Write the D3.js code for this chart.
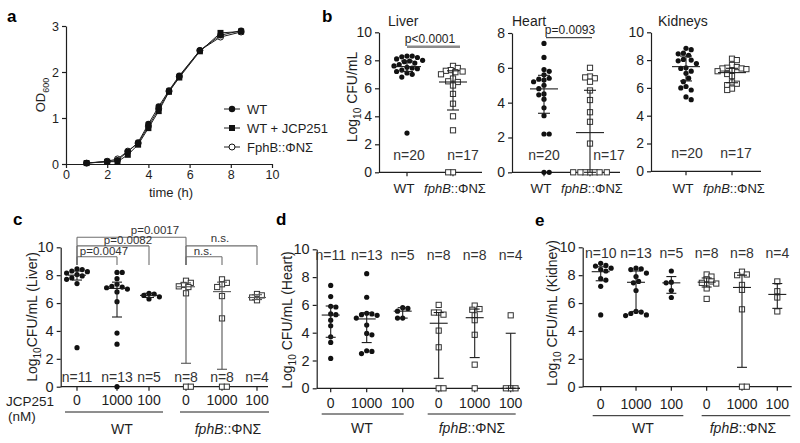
<!DOCTYPE html>
<html><head><meta charset="utf-8">
<script src="https://cdn.jsdelivr.net/npm/d3@7"></script>
<style>body{margin:0;background:#fff}svg{display:block}</style>
</head><body>
<svg id="fig" width="800" height="443"></svg>
<script>
// ---------------- DATA ----------------
// panel a: growth curves
const growthTime   = [1, 2, 2.5, 3, 3.5, 4, 4.5, 5, 5.5, 6.5, 7.5, 8.5];
const growthWT     = [0.02, 0.05, 0.08, 0.27, 0.47, 0.87, 1.25, 1.60, 1.92, 2.47, 2.80, 2.90];
const growthWTJCP  = [0.02, 0.05, 0.05, 0.20, 0.42, 0.78, 1.15, 1.57, 1.88, 2.45, 2.85, 2.88];
const growthFphB   = [0.02, 0.06, 0.11, 0.28, 0.45, 0.82, 1.20, 1.58, 1.90, 2.47, 2.76, 2.87];
const growthNames  = ["WT", "WT + JCP251", "FphB::ΦNΣ"];
const growthXTicks = [0, 2, 4, 6, 8, 10];
const growthYTicks = [0, 1, 2, 3];

// panel b: organ burdens, WT vs fphB
const bOrgans     = ["Liver", "Heart", "Kidneys"];
const bLiverWT    = [8.3,8.3,8.25,8.2,8.1,8.0,7.95,7.9,7.8,7.7,7.6,7.5,7.45,7.4,7.3,7.2,7.1,7.0,6.8,2.8];
const bLiverFphB  = [7.6,7.45,7.3,7.25,7.2,7.15,7.0,6.7,6.5,6.45,6.2,5.6,4.9,4.0,3.0,0,0];
const bHeartWT    = [7.4,6.6,5.9,5.8,5.6,5.4,5.35,5.3,5.2,5.0,4.8,4.5,4.45,4.2,3.7,3.25,2.2,2.2,0,0];
const bHeartFphB  = [6.0,5.5,5.45,5.4,5.2,4.7,4.15,3.45,2.9,1.65,0,0,0,0,0,0,0];
const bKidneyWT   = [8.85,8.75,8.5,8.45,8.35,8.05,8.0,7.95,7.75,7.45,7.4,7.2,7.05,6.7,6.45,6.1,6.0,5.85,5.35,5.15];
const bKidneyFphB = [8.1,8.0,7.65,7.5,7.45,7.4,7.4,7.35,7.25,7.2,7.0,6.85,6.4,6.3,6.2,5.95,5.85];
// [q1, median, q3] as drawn
const bLiverStats  = [[7.2,7.55,7.95],[4.45,6.45,7.25]];
const bHeartStats  = [[3.39,4.79,5.57],[0,2.28,4.71]];
const bKidneyStats = [[6.5,7.53,8.29],[6.37,7.1,7.41]];
const bPValues     = ["p<0.0001", "p=0.0093", null];

// panels c-e: JCP251 dose
const doses = ["0", "1000", "100", "0", "1000", "100"];
const cLiver  = [
  [8.45,8.4,8.3,8.25,8.15,8.05,7.95,7.8,7.7,7.4,2.8],
  [8.2,8.2,7.75,7.35,7.2,7.15,7.1,7.0,6.8,6.1,3.85,3.05,0],
  [6.7,6.65,6.55,6.45,6.3],
  [7.6,7.45,7.3,7.2,7.15,6.7,0,0],
  [7.7,7.45,7.35,7.15,6.5,4.9,0,0],
  [6.65,6.55,6.4,6.2]];
const cStats = [[7.65,8.0,8.3],[5.0,7.05,7.5],[6.4,6.55,6.7],[1.68,7.17,7.45],[1.25,6.82,7.5],[6.25,6.4,6.6]];
const cComparisons = [
  {a:0, b:3, label:"p=0.0017"}, {a:0, b:2, label:"p=0.0082"}, {a:0, b:1, label:"p=0.0047"},
  {a:3, b:5, label:"n.s."}, {a:3, b:4, label:"n.s."}];
const dHeart = [
  [7.4,6.6,5.9,5.85,5.35,5.3,4.9,4.5,3.7,3.3,2.15],
  [8.25,6.55,5.4,5.35,5.3,5.25,5.05,4.55,3.95,3.85,2.7,2.65,2.5],
  [5.8,5.75,5.55,5.05,5.05],
  [6.0,5.45,5.45,5.3,4.15,2.95,0,0],
  [5.95,5.7,5.65,5.25,4.9,3.85,1.7,0],
  [5.25,0,0,0]];
const dStats = [[3.67,5.27,5.92],[3.29,4.99,5.44],[5.05,5.55,5.8],[0.72,4.68,5.45],[2.21,5.08,5.7],[0,0,3.96]];
const eKidney = [
  [8.85,8.7,8.65,8.5,8.4,8.3,7.75,7.65,7.2,5.15],
  [8.5,8.45,8.4,8.15,7.9,7.55,7.45,6.9,5.4,5.35,5.25,5.15,5.1],
  [8.3,7.5,7.45,6.9,6.4],
  [8.05,7.9,7.7,7.55,7.45,7.4,7.05,6.3],
  [8.25,8.05,8.0,7.3,6.95,5.55,0,0],
  [7.55,6.85,6.4,5.4]];
const eStats = [[7.6,8.25,8.6],[5.4,7.49,8.3],[6.7,7.45,7.9],[7.15,7.5,7.8],[1.39,7.12,8.0],[5.62,6.62,7.4]];
const cfuTicks10 = [0, 2, 4, 6, 8, 10];
const cfuTicks8  = [0, 2, 4, 6, 8];

// ---------------- DRAWING ----------------
const FONT = "'Liberation Sans', Arial, sans-serif";
const INK = "#1e1e1e";
const svg = d3.select("#fig").attr("font-family", FONT);
const fmt = d3.format("d");

function txt(g, x, y, s, size, anchor, extra) {
  const t = g.append("text").attr("x", x).attr("y", y).attr("font-size", size)
    .attr("fill", INK).attr("text-anchor", anchor || "start").text(s);
  if (extra) extra(t);
  return t;
}
function styleAxis(g, size) {
  g.attr("font-family", FONT).attr("font-size", size);
  g.selectAll("path,line").attr("stroke", INK).attr("stroke-width", 1.2);
  g.selectAll("text").attr("fill", INK);
}
function fphLabel(g, x, y, size) {
  const t = g.append("text").attr("x", x).attr("y", y).attr("font-size", size)
    .attr("fill", INK).attr("text-anchor", "middle");
  t.append("tspan").attr("font-style", "italic").text("fphB");
  t.append("tspan").text("::ΦNΣ");
  return t;
}
function log10Label(g, x, y, size, rest) {
  const t = g.append("text").attr("transform", `translate(${x},${y}) rotate(-90)`)
    .attr("font-size", size).attr("fill", INK).attr("text-anchor", "middle");
  t.append("tspan").text("Log");
  t.append("tspan").attr("font-size", size * 0.72).attr("dy", size * 0.3).text("10");
  t.append("tspan").attr("dy", -size * 0.3).text(rest);
}
function panelLetter(x, y, s) {
  svg.append("text").attr("x", x).attr("y", y).attr("font-size", 17).attr("font-weight", "bold")
    .attr("fill", "#000").text(s);
}

// swarm layout: place points of a group around its centre without overlap
function swarm(vals, y, minD) {
  const pts = vals.map(v => ({v, py: y(v), dx: 0})).sort((a, b) => b.v - a.v);
  const placed = [];
  const step = minD * 0.5;
  pts.forEach((p, idx) => {
    for (let k = 0; k < 80; k++) {
      const cands = k === 0 ? [0] : (idx % 2 ? [k * step, -k * step] : [-k * step, k * step]);
      const ok = cands.find(c => placed.every(q => (q.dx - c) ** 2 + (q.py - p.py) ** 2 >= minD * minD));
      if (ok !== undefined) { p.dx = ok; break; }
    }
    placed.push(p);
  });
  return pts;
}

// generic dot plot
function dotPanel(o) {
  const g = svg.append("g");
  const x = o.xScale;
  const y = d3.scaleLinear().domain([0, o.ymax]).range(o.yr);
  const ya = g.append("g").attr("transform", `translate(${o.axisX[0]},0)`)
    .call(d3.axisLeft(y).tickValues(o.yTicks).tickFormat(fmt).tickSize(4).tickSizeOuter(0).tickPadding(3));
  styleAxis(ya, o.yFont);
  g.append("line").attr("x1", o.axisX[0]).attr("x2", o.axisX[1]).attr("y1", y(0)).attr("y2", y(0))
    .attr("stroke", INK).attr("stroke-width", 1.2);
  o.groups.forEach((vals, i) => {
    g.append("line").attr("x1", x(i)).attr("x2", x(i)).attr("y1", y(0)).attr("y2", y(0) + 4)
      .attr("stroke", INK).attr("stroke-width", 1.2);
  });
  o.groups.forEach((vals, i) => {
    const filled = o.filled(i);
    const pts = swarm(vals, y, filled ? 5.2 : 4.8);
    pts.forEach(p => {
      if (filled) {
        g.append("circle").attr("cx", x(i) + p.dx).attr("cy", p.py).attr("r", 2.6).attr("fill", "#111");
      } else {
        g.append("rect").attr("x", x(i) + p.dx - 2.6).attr("y", p.py - 2.6).attr("width", 5.2).attr("height", 5.2)
          .attr("fill", "#fff").attr("stroke", "#333").attr("stroke-width", 1);
      }
    });
    const [q1, md, q3] = o.stats[i];
    const col = o.barColor ? o.barColor(i) : INK;
    const bar = (x1, x2, y1, y2) => g.append("line").attr("x1", x1).attr("x2", x2).attr("y1", y1).attr("y2", y2)
      .attr("stroke", col).attr("stroke-width", 1.1);
    bar(x(i), x(i), y(q1), y(q3));
    bar(x(i) - o.capW, x(i) + o.capW, y(q1), y(q1));
    bar(x(i) - o.capW, x(i) + o.capW, y(q3), y(q3));
    bar(x(i) - o.medW, x(i) + o.medW, y(md), y(md));
    txt(g, x(i) + (o.nOff ? o.nOff[i] : 0), o.nY, "n=" + vals.length, o.nFont, "middle", t => t.attr("fill", "#333"));
  });
  return {g, x, y};
}

// ---------- panel a ----------
{
  panelLetter(7, 22, "a");
  const g = svg.append("g");
  const x = d3.scaleLinear().domain([0, 10]).range([66, 272]);
  const y = d3.scaleLinear().domain([0, 3]).range([164, 26]);
  const xa = g.append("g").attr("transform", "translate(0,164)")
    .call(d3.axisBottom(x).tickValues(growthXTicks).tickFormat(fmt).tickSize(4).tickSizeOuter(0).tickPadding(2));
  styleAxis(xa, 12.5);
  const ya = g.append("g").attr("transform", "translate(66,0)")
    .call(d3.axisLeft(y).tickValues(growthYTicks).tickFormat(fmt).tickSize(4).tickSizeOuter(0).tickPadding(3));
  styleAxis(ya, 12.5);
  txt(g, 171, 197, "time (h)", 13, "middle");
  const od = g.append("text").attr("transform", "translate(45,95) rotate(-90)").attr("font-size", 13)
    .attr("fill", INK).attr("text-anchor", "middle");
  od.append("tspan").text("OD");
  od.append("tspan").attr("font-size", 9).attr("dy", 4).text("600");

  const series = [growthFphB, growthWTJCP, growthWT];
  const kinds = ["open", "square", "dot"];
  const line = d3.line().x((d, i) => x(growthTime[i])).y(d => y(d));
  const marker = (sel, kind, cx, cy) => {
    if (kind === "dot") sel.append("circle").attr("cx", cx).attr("cy", cy).attr("r", 3.2).attr("fill", "#111");
    else if (kind === "square") sel.append("rect").attr("x", cx - 3).attr("y", cy - 3).attr("width", 6).attr("height", 6).attr("fill", "#111");
    else sel.append("circle").attr("cx", cx).attr("cy", cy).attr("r", 3).attr("fill", "#fff").attr("stroke", "#111").attr("stroke-width", 1);
  };
  series.forEach(s => {
    g.append("path").datum(s).attr("d", line).attr("fill", "none").attr("stroke", INK).attr("stroke-width", 1);
  });
  series.forEach((s, k) => s.forEach((v, i) => marker(g, kinds[k], x(growthTime[i]), y(v))));
  const legKinds = ["dot", "square", "open"];
  growthNames.forEach((n, k) => {
    const ly = 109 + k * 19;
    g.append("line").attr("x1", 224).attr("x2", 240).attr("y1", ly).attr("y2", ly).attr("stroke", INK).attr("stroke-width", 1);
    marker(g, legKinds[k], 232, ly);
    txt(g, 247, ly + 4.5, n, 13, "start");
  });
}

// ---------- panel b ----------
{
  panelLetter(322, 22, "b");
  const organData = [[bLiverWT, bLiverFphB], [bHeartWT, bHeartFphB], [bKidneyWT, bKidneyFphB]];
  const organStats = [bLiverStats, bHeartStats, bKidneyStats];
  const layout = [
    {axisX: [379, 482], xr: [407, 453], yr: [172.3, 32.3], ymax: 10, ticks: cfuTicks10, titleX: 388, nOff: [2, 10], nY: 160,
     pLine: [407, 460, 46.7], pText: [430, 43], pCol: "#8a8a8a", pW: 2.4},
    {axisX: [512, 620], xr: [544, 590], yr: [172.3, 33], ymax: 8, ticks: cfuTicks8, titleX: 512, nOff: [0, 19], nY: 160,
     pLine: [546, 592, 37.7], pText: [570, 34], pCol: INK, pW: 1},
    {axisX: [651, 761], xr: [686, 732], yr: [171.3, 32.3], ymax: 10, ticks: cfuTicks10, titleX: 658, nOff: [1, 4], nY: 158}];
  bOrgans.forEach((org, k) => {
    const L = layout[k];
    const xs = d3.scaleLinear().domain([0, 1]).range(L.xr);
    const r = dotPanel({groups: organData[k], stats: organStats[k], xScale: xs, axisX: L.axisX, yr: L.yr,
      ymax: L.ymax, yTicks: L.ticks, yFont: 14, filled: i => i === 0, capW: 6, medW: 14,
      nOff: L.nOff, nY: L.nY, nFont: 14});
    txt(r.g, L.titleX, 26, org, 14, "start");
    txt(r.g, xs(0) - 3, 193, "WT", 13.5, "middle");
    fphLabel(r.g, xs(1) + 2, 193, 13);
    if (bPValues[k]) {
      r.g.append("line").attr("x1", L.pLine[0]).attr("x2", L.pLine[1]).attr("y1", L.pLine[2]).attr("y2", L.pLine[2])
        .attr("stroke", L.pCol).attr("stroke-width", L.pW);
      txt(r.g, L.pText[0], L.pText[1], bPValues[k], 12, "middle");
    }
  });
  log10Label(svg, 357, 97, 14, " CFU/mL");
}

// ---------- panels c, d, e ----------
function dosePanel(o) {
  const r = dotPanel({groups: o.groups, stats: o.stats, xScale: o.xScale, axisX: o.axisX, yr: o.yr, ymax: 10,
    yTicks: cfuTicks10, yFont: 14.5, filled: i => i < 3, capW: 5, medW: 9, nY: o.nY, nFont: 14,
    barColor: o.barColor});
  const x = o.xScale;
  doses.forEach((d, i) => txt(r.g, x(i), o.tickY, d, 14, "middle"));
  [[0, 2], [3, 5]].forEach(([a, b], s) => {
    const x1 = x(a) - o.ul[s][0], x2 = x(b) + o.ul[s][1];
    r.g.append("line").attr("x1", x1).attr("x2", x2).attr("y1", o.ulY).attr("y2", o.ulY)
      .attr("stroke", INK).attr("stroke-width", 1);
  });
  txt(r.g, o.strainX[0], o.strainY, "WT", 14, "middle");
  fphLabel(r.g, o.strainX[1], o.strainY, 14);
  return r;
}

// c
{
  panelLetter(13, 225, "c");
  const xs = d3.scaleOrdinal().domain(d3.range(6)).range([77, 117, 149, 186, 222, 257]);
  const r = dosePanel({groups: cLiver, stats: cStats, xScale: xs, axisX: [60.7, 268], yr: [386.7, 247.3],
    nY: 382, tickY: 405, ulY: 412, ul: [[12, 14], [6, 12]], strainX: [122, 228], strainY: 434,
    barColor: i => i < 3 ? INK : "#555"});
  txt(svg, 6, 406, "JCP251", 13.5, "start");
  txt(svg, 8, 421, "(nM)", 13.5, "start");
  log10Label(svg, 37, 317, 14, "CFU/mL (Liver)");
  const y = r.y;
  const lvl = {"0-3": 10.72, "0-2": 10.1, "0-1": 9.32, "3-5": 10.1, "3-4": 9.32};
  const legBottom = 8.73;
  const labelPos = {"0-3": [155, 234], "0-2": [128, 244], "0-1": [104, 255], "3-5": [220, 242], "3-4": [203, 255]};
  const GR = "#6e6e6e";
  cComparisons.forEach(c => {
    const key = c.a + "-" + c.b;
    const yy = y(lvl[key]);
    const bl = (x1, x2, y1, y2) => r.g.append("line").attr("x1", x1).attr("x2", x2).attr("y1", y1).attr("y2", y2)
      .attr("stroke", GR).attr("stroke-width", 1.1);
    bl(xs(c.a), xs(c.b), yy, yy);
    bl(xs(c.b), xs(c.b), yy, y(legBottom));
    bl(xs(c.a), xs(c.a), yy, y(legBottom));
    txt(r.g, labelPos[key][0], labelPos[key][1], c.label, 11.5, "middle", t => t.attr("fill", "#333"));
  });
}
// d
{
  panelLetter(276, 225, "d");
  const xs = d3.scalePoint().domain(d3.range(6)).range([330.7, 510.7]);
  dosePanel({groups: dHeart, stats: dStats, xScale: xs, axisX: [316.7, 520], yr: [388.3, 249.3],
    nY: 260, tickY: 408, ulY: 414, ul: [[9, 1], [11, 5]], strainX: [362, 472], strainY: 433});
  log10Label(svg, 292, 320, 14, " CFU/mL (Heart)");
}
// e
{
  panelLetter(535, 226, "e");
  const xs = d3.scalePoint().domain(d3.range(6)).range([600.7, 777.3]);
  dosePanel({groups: eKidney, stats: eStats, xScale: xs, axisX: [582.7, 791.7], yr: [386.7, 247.3],
    nY: 258, tickY: 409, ulY: 415.7, ul: [[8, 12], [5, 13]], strainX: [643, 743], strainY: 433});
  log10Label(svg, 557, 313, 14, " CFU/mL (Kidney)");
}
</script>
</body></html>
